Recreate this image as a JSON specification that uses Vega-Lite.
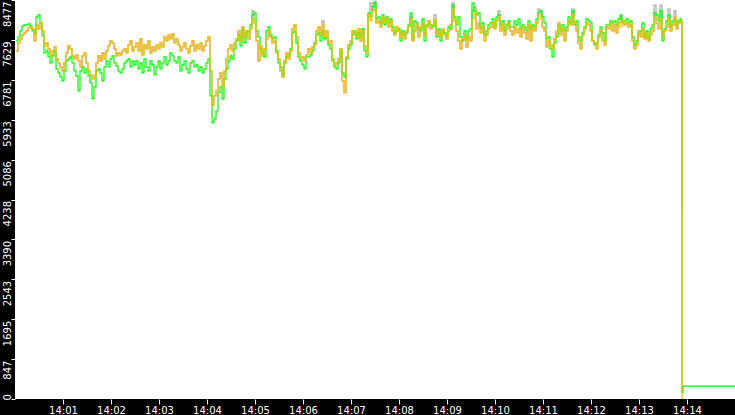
{
  "$schema": "https://vega.github.io/schema/vega-lite/v6.json",
  "width": 720,
  "height": 399,
  "autosize": {"type": "none"},
  "padding": {"left": 15, "top": 0, "right": 0, "bottom": 16},
  "background": "black",
  "config": {
    "view": {"fill": "white", "stroke": null},
    "axis": {
      "domain": false,
      "grid": false,
      "title": null,
      "tickColor": "white",
      "tickWidth": 1,
      "labelColor": "white",
      "labelFont": "DejaVu Sans",
      "labelFontSize": 10,
      "labelOverlap": false,
      "labelBound": false,
      "labelFlush": false
    }
  },
  "data": {
    "values": [
      {"t":1.25,"k":7396,"g":7608,"a":7396},
      {"t":3.75,"k":7566,"g":7693,"a":7566},
      {"t":6.25,"k":7650,"g":7820,"a":7650},
      {"t":8.75,"k":7735,"g":7926,"a":7735},
      {"t":11.25,"k":7778,"g":7947,"a":7778},
      {"t":13.75,"k":7820,"g":7947,"a":7820},
      {"t":16.25,"k":7884,"g":7968,"a":7884},
      {"t":18.75,"k":7905,"g":7926,"a":7905},
      {"t":21.25,"k":7862,"g":7820,"a":7862},
      {"t":23.75,"k":7608,"g":7756,"a":7608},
      {"t":26.25,"k":7947,"g":8117,"a":7947},
      {"t":28.75,"k":7862,"g":8159,"a":7862},
      {"t":31.25,"k":7990,"g":7990,"a":7990},
      {"t":33.75,"k":7820,"g":7714,"a":7820},
      {"t":36.25,"k":7502,"g":7354,"a":7502},
      {"t":38.75,"k":7566,"g":7396,"a":7566},
      {"t":41.25,"k":7438,"g":7269,"a":7438},
      {"t":43.75,"k":7290,"g":7142,"a":7290},
      {"t":46.25,"k":7396,"g":7290,"a":7396},
      {"t":48.75,"k":7481,"g":7396,"a":7481},
      {"t":51.25,"k":7226,"g":7014,"a":7226},
      {"t":53.75,"k":7142,"g":6930,"a":7142},
      {"t":56.25,"k":7057,"g":6845,"a":7057},
      {"t":58.75,"k":6972,"g":6760,"a":6972},
      {"t":61.25,"k":7142,"g":6972,"a":7142},
      {"t":63.75,"k":7354,"g":7184,"a":7354},
      {"t":66.25,"k":7502,"g":7226,"a":7502},
      {"t":68.75,"k":7438,"g":7269,"a":7438},
      {"t":71.25,"k":7290,"g":7142,"a":7290},
      {"t":73.75,"k":7226,"g":6972,"a":7226},
      {"t":76.25,"k":7311,"g":6866,"a":7311},
      {"t":78.75,"k":7184,"g":6548,"a":7184},
      {"t":81.25,"k":7057,"g":6972,"a":7057},
      {"t":83.75,"k":7290,"g":7057,"a":7290},
      {"t":86.25,"k":7354,"g":6930,"a":7354},
      {"t":88.75,"k":7142,"g":7014,"a":7142},
      {"t":91.25,"k":6972,"g":6866,"a":6972},
      {"t":93.75,"k":6887,"g":6718,"a":6887},
      {"t":96.25,"k":6802,"g":6378,"a":6802},
      {"t":98.75,"k":6866,"g":6633,"a":6866},
      {"t":101.25,"k":7142,"g":6972,"a":7142},
      {"t":103.75,"k":7290,"g":7014,"a":7290},
      {"t":106.25,"k":7184,"g":6930,"a":7184},
      {"t":108.75,"k":7354,"g":6760,"a":7354},
      {"t":111.25,"k":7226,"g":7057,"a":7226},
      {"t":113.75,"k":7396,"g":7184,"a":7396},
      {"t":116.25,"k":7502,"g":7057,"a":7502},
      {"t":118.75,"k":7608,"g":7226,"a":7608},
      {"t":121.25,"k":7566,"g":7290,"a":7566},
      {"t":123.75,"k":7438,"g":7142,"a":7438},
      {"t":126.25,"k":7290,"g":7078,"a":7290},
      {"t":128.75,"k":7354,"g":6972,"a":7354},
      {"t":131.25,"k":7311,"g":6930,"a":7311},
      {"t":133.75,"k":7396,"g":7014,"a":7396},
      {"t":136.25,"k":7438,"g":7142,"a":7438},
      {"t":138.75,"k":7354,"g":7184,"a":7354},
      {"t":141.25,"k":7523,"g":7226,"a":7523},
      {"t":143.75,"k":7608,"g":7057,"a":7608},
      {"t":146.25,"k":7396,"g":7184,"a":7396},
      {"t":148.75,"k":7481,"g":7099,"a":7481},
      {"t":151.25,"k":7566,"g":7184,"a":7566},
      {"t":153.75,"k":7396,"g":7014,"a":7396},
      {"t":156.25,"k":7650,"g":7142,"a":7650},
      {"t":158.75,"k":7311,"g":6930,"a":7311},
      {"t":161.25,"k":7523,"g":7226,"a":7523},
      {"t":163.75,"k":7438,"g":7057,"a":7438},
      {"t":166.25,"k":7608,"g":6972,"a":7608},
      {"t":168.75,"k":7354,"g":7184,"a":7354},
      {"t":171.25,"k":7481,"g":7099,"a":7481},
      {"t":173.75,"k":7396,"g":6887,"a":7396},
      {"t":176.25,"k":7523,"g":7057,"a":7523},
      {"t":178.75,"k":7438,"g":7184,"a":7438},
      {"t":181.25,"k":7566,"g":7014,"a":7566},
      {"t":183.75,"k":7481,"g":7142,"a":7481},
      {"t":186.25,"k":7693,"g":7269,"a":7693},
      {"t":188.75,"k":7608,"g":7099,"a":7608},
      {"t":191.25,"k":7735,"g":7184,"a":7735},
      {"t":193.75,"k":7650,"g":7354,"a":7650},
      {"t":196.25,"k":7756,"g":7290,"a":7756},
      {"t":198.75,"k":7566,"g":7184,"a":7566},
      {"t":201.25,"k":7650,"g":7142,"a":7650},
      {"t":203.75,"k":7523,"g":7269,"a":7523},
      {"t":206.25,"k":7396,"g":6972,"a":7396},
      {"t":208.75,"k":7481,"g":7099,"a":7481},
      {"t":211.25,"k":7566,"g":7184,"a":7566},
      {"t":213.75,"k":7438,"g":7014,"a":7438},
      {"t":216.25,"k":7354,"g":6930,"a":7354},
      {"t":218.75,"k":7502,"g":7142,"a":7502},
      {"t":221.25,"k":7608,"g":7184,"a":7608},
      {"t":223.75,"k":7396,"g":7057,"a":7396},
      {"t":226.25,"k":7523,"g":7099,"a":7523},
      {"t":228.75,"k":7438,"g":6972,"a":7438},
      {"t":231.25,"k":7566,"g":7057,"a":7566},
      {"t":233.75,"k":7396,"g":6930,"a":7396},
      {"t":236.25,"k":7502,"g":7014,"a":7502},
      {"t":238.75,"k":7608,"g":7142,"a":7608},
      {"t":241.25,"k":7693,"g":7226,"a":7693},
      {"t":243.75,"k":6972,"g":6442,"a":6972},
      {"t":246.25,"k":6230,"g":5870,"a":6230},
      {"t":248.75,"k":6442,"g":5954,"a":6442},
      {"t":251.25,"k":6548,"g":6124,"a":6548},
      {"t":253.75,"k":6802,"g":6506,"a":6802},
      {"t":256.25,"k":6930,"g":6633,"a":6930},
      {"t":258.75,"k":6633,"g":6378,"a":6633},
      {"t":261.25,"k":6972,"g":6802,"a":6972},
      {"t":263.75,"k":7226,"g":7014,"a":7226},
      {"t":266.25,"k":7438,"g":7184,"a":7438},
      {"t":268.75,"k":7523,"g":7290,"a":7523},
      {"t":271.25,"k":7396,"g":7226,"a":7396},
      {"t":273.75,"k":7566,"g":7438,"a":7566},
      {"t":276.25,"k":7650,"g":7608,"a":7650},
      {"t":278.75,"k":7820,"g":7735,"a":7820},
      {"t":281.25,"k":7608,"g":7502,"a":7608},
      {"t":283.75,"k":7905,"g":7862,"a":7905},
      {"t":286.25,"k":7693,"g":7566,"a":7693},
      {"t":288.75,"k":7820,"g":7778,"a":7820},
      {"t":291.25,"k":7650,"g":7820,"a":7650},
      {"t":293.75,"k":7862,"g":7947,"a":7862},
      {"t":296.25,"k":8244,"g":8159,"a":8074},
      {"t":298.75,"k":7990,"g":8202,"a":7990},
      {"t":301.25,"k":7608,"g":7820,"a":7608},
      {"t":303.75,"k":7184,"g":7693,"a":7184},
      {"t":306.25,"k":7502,"g":7438,"a":7502},
      {"t":308.75,"k":7290,"g":7354,"a":7290},
      {"t":311.25,"k":7438,"g":7269,"a":7438},
      {"t":313.75,"k":7650,"g":7820,"a":7650},
      {"t":316.25,"k":7820,"g":7905,"a":7820},
      {"t":318.75,"k":7693,"g":7735,"a":7693},
      {"t":321.25,"k":7566,"g":7650,"a":7566},
      {"t":323.75,"k":7608,"g":7693,"a":7608},
      {"t":326.25,"k":7354,"g":7396,"a":7354},
      {"t":328.75,"k":7226,"g":7142,"a":7226},
      {"t":331.25,"k":6972,"g":7057,"a":6972},
      {"t":333.75,"k":6845,"g":6845,"a":6845},
      {"t":336.25,"k":7184,"g":7142,"a":7184},
      {"t":338.75,"k":7354,"g":7269,"a":7354},
      {"t":341.25,"k":7226,"g":7311,"a":7226},
      {"t":343.75,"k":7396,"g":7438,"a":7396},
      {"t":346.25,"k":7862,"g":7778,"a":7862},
      {"t":348.75,"k":7947,"g":7820,"a":7947},
      {"t":351.25,"k":7693,"g":7566,"a":7693},
      {"t":353.75,"k":7354,"g":7269,"a":7354},
      {"t":356.25,"k":7226,"g":7184,"a":7226},
      {"t":358.75,"k":7269,"g":7099,"a":7269},
      {"t":361.25,"k":7184,"g":7014,"a":7184},
      {"t":363.75,"k":7311,"g":7269,"a":7311},
      {"t":366.25,"k":7438,"g":7269,"a":7438},
      {"t":368.75,"k":7354,"g":7311,"a":7354},
      {"t":371.25,"k":7481,"g":7396,"a":7481},
      {"t":373.75,"k":7523,"g":7566,"a":7523},
      {"t":376.25,"k":7820,"g":7735,"a":7820},
      {"t":378.75,"k":7905,"g":7778,"a":7905},
      {"t":381.25,"k":7735,"g":7608,"a":7735},
      {"t":383.75,"k":8032,"g":7820,"a":7947},
      {"t":386.25,"k":7693,"g":7650,"a":7693},
      {"t":388.75,"k":7820,"g":7693,"a":7820},
      {"t":391.25,"k":7566,"g":7523,"a":7566},
      {"t":393.75,"k":7608,"g":7438,"a":7608},
      {"t":396.25,"k":7184,"g":7226,"a":7184},
      {"t":398.75,"k":7099,"g":7057,"a":7099},
      {"t":401.25,"k":7142,"g":7014,"a":7142},
      {"t":403.75,"k":7226,"g":7142,"a":7226},
      {"t":406.25,"k":7438,"g":7396,"a":7438},
      {"t":408.75,"k":6760,"g":6930,"a":6760},
      {"t":411.25,"k":6506,"g":6845,"a":6506},
      {"t":413.75,"k":7269,"g":7226,"a":7269},
      {"t":416.25,"k":7523,"g":7438,"a":7523},
      {"t":418.75,"k":7608,"g":7523,"a":7608},
      {"t":421.25,"k":7820,"g":7735,"a":7820},
      {"t":423.75,"k":7778,"g":7820,"a":7778},
      {"t":426.25,"k":7693,"g":7650,"a":7693},
      {"t":428.75,"k":7862,"g":7778,"a":7862},
      {"t":431.25,"k":7608,"g":7693,"a":7608},
      {"t":433.75,"k":7820,"g":7862,"a":7820},
      {"t":436.25,"k":7502,"g":7396,"a":7502},
      {"t":438.75,"k":7354,"g":7269,"a":7354},
      {"t":441.25,"k":8159,"g":8202,"a":8159},
      {"t":443.75,"k":8414,"g":8117,"a":8032},
      {"t":446.25,"k":8244,"g":8329,"a":8244},
      {"t":448.75,"k":8456,"g":8414,"a":8286},
      {"t":451.25,"k":7990,"g":8074,"a":7990},
      {"t":453.75,"k":8032,"g":8117,"a":8032},
      {"t":456.25,"k":7905,"g":7990,"a":7905},
      {"t":458.75,"k":8117,"g":8159,"a":8117},
      {"t":461.25,"k":7990,"g":7947,"a":7990},
      {"t":463.75,"k":8074,"g":8117,"a":8074},
      {"t":466.25,"k":7905,"g":7990,"a":7905},
      {"t":468.75,"k":8032,"g":8074,"a":8032},
      {"t":471.25,"k":7820,"g":7905,"a":7820},
      {"t":473.75,"k":7735,"g":7778,"a":7735},
      {"t":476.25,"k":7905,"g":7820,"a":7905},
      {"t":478.75,"k":7820,"g":7862,"a":7820},
      {"t":481.25,"k":7693,"g":7608,"a":7693},
      {"t":483.75,"k":7778,"g":7820,"a":7778},
      {"t":486.25,"k":7650,"g":7735,"a":7650},
      {"t":488.75,"k":7820,"g":7778,"a":7820},
      {"t":491.25,"k":7905,"g":7947,"a":7905},
      {"t":493.75,"k":8117,"g":8202,"a":8074},
      {"t":496.25,"k":7608,"g":7650,"a":7608},
      {"t":498.75,"k":7820,"g":8032,"a":7820},
      {"t":501.25,"k":7947,"g":7990,"a":7947},
      {"t":503.75,"k":7693,"g":7862,"a":7693},
      {"t":506.25,"k":7905,"g":7820,"a":7905},
      {"t":508.75,"k":7990,"g":8074,"a":7990},
      {"t":511.25,"k":7735,"g":7608,"a":7735},
      {"t":513.75,"k":7905,"g":7947,"a":7905},
      {"t":516.25,"k":8032,"g":7990,"a":8032},
      {"t":518.75,"k":7862,"g":7947,"a":7862},
      {"t":521.25,"k":7947,"g":7905,"a":7947},
      {"t":523.75,"k":8159,"g":8032,"a":8074},
      {"t":526.25,"k":7735,"g":7693,"a":7735},
      {"t":528.75,"k":7820,"g":7862,"a":7820},
      {"t":531.25,"k":7693,"g":7608,"a":7693},
      {"t":533.75,"k":7862,"g":7820,"a":7862},
      {"t":536.25,"k":7735,"g":7778,"a":7735},
      {"t":538.75,"k":7650,"g":7693,"a":7650},
      {"t":541.25,"k":7820,"g":7905,"a":7820},
      {"t":543.75,"k":7947,"g":7862,"a":7947},
      {"t":546.25,"k":8414,"g":8371,"a":8286},
      {"t":548.75,"k":8032,"g":8117,"a":8032},
      {"t":551.25,"k":7820,"g":7947,"a":7820},
      {"t":553.75,"k":7608,"g":8117,"a":7608},
      {"t":556.25,"k":7438,"g":7693,"a":7438},
      {"t":558.75,"k":7650,"g":7608,"a":7650},
      {"t":561.25,"k":7735,"g":7820,"a":7735},
      {"t":563.75,"k":7481,"g":7650,"a":7481},
      {"t":566.25,"k":7693,"g":7820,"a":7693},
      {"t":568.75,"k":7608,"g":7862,"a":7608},
      {"t":571.25,"k":8244,"g":8414,"a":8074},
      {"t":573.75,"k":8329,"g":8244,"a":8202},
      {"t":576.25,"k":7862,"g":8159,"a":7862},
      {"t":578.75,"k":7990,"g":8202,"a":7990},
      {"t":581.25,"k":7778,"g":7905,"a":7778},
      {"t":583.75,"k":7905,"g":7990,"a":7905},
      {"t":586.25,"k":7608,"g":7735,"a":7608},
      {"t":588.75,"k":7735,"g":7820,"a":7735},
      {"t":591.25,"k":7862,"g":7947,"a":7862},
      {"t":593.75,"k":7905,"g":7990,"a":7905},
      {"t":596.25,"k":7990,"g":8074,"a":7990},
      {"t":598.75,"k":7862,"g":7905,"a":7862},
      {"t":601.25,"k":8032,"g":8117,"a":8032},
      {"t":603.75,"k":8244,"g":8159,"a":8117},
      {"t":606.25,"k":7820,"g":7947,"a":7820},
      {"t":608.75,"k":7947,"g":8032,"a":7947},
      {"t":611.25,"k":7735,"g":7820,"a":7735},
      {"t":613.75,"k":7862,"g":7947,"a":7862},
      {"t":616.25,"k":7990,"g":8032,"a":7990},
      {"t":618.75,"k":7820,"g":7905,"a":7820},
      {"t":621.25,"k":7735,"g":7905,"a":7735},
      {"t":623.75,"k":7905,"g":8032,"a":7905},
      {"t":626.25,"k":7778,"g":7947,"a":7778},
      {"t":628.75,"k":7862,"g":8074,"a":7862},
      {"t":631.25,"k":7693,"g":7862,"a":7693},
      {"t":633.75,"k":7905,"g":7947,"a":7905},
      {"t":636.25,"k":7778,"g":7905,"a":7778},
      {"t":638.75,"k":7650,"g":7820,"a":7650},
      {"t":641.25,"k":7947,"g":8032,"a":7947},
      {"t":643.75,"k":7608,"g":7862,"a":7608},
      {"t":646.25,"k":7905,"g":7947,"a":7905},
      {"t":648.75,"k":7820,"g":7905,"a":7820},
      {"t":651.25,"k":7990,"g":8074,"a":7990},
      {"t":653.75,"k":8286,"g":8202,"a":8159},
      {"t":656.25,"k":8244,"g":8244,"a":8074},
      {"t":658.75,"k":7905,"g":8117,"a":7905},
      {"t":661.25,"k":7820,"g":7990,"a":7820},
      {"t":663.75,"k":7481,"g":7650,"a":7481},
      {"t":666.25,"k":7608,"g":7693,"a":7608},
      {"t":668.75,"k":7523,"g":7438,"a":7523},
      {"t":671.25,"k":7438,"g":7269,"a":7438},
      {"t":673.75,"k":7650,"g":7566,"a":7650},
      {"t":676.25,"k":7820,"g":7693,"a":7820},
      {"t":678.75,"k":7990,"g":7947,"a":7990},
      {"t":681.25,"k":7735,"g":7820,"a":7735},
      {"t":683.75,"k":7862,"g":7947,"a":7862},
      {"t":686.25,"k":7608,"g":7820,"a":7608},
      {"t":688.75,"k":7820,"g":7905,"a":7820},
      {"t":691.25,"k":8032,"g":8117,"a":8032},
      {"t":693.75,"k":7947,"g":7990,"a":7947},
      {"t":696.25,"k":8286,"g":8244,"a":8159},
      {"t":698.75,"k":7990,"g":7947,"a":7990},
      {"t":701.25,"k":7820,"g":8032,"a":7820},
      {"t":703.75,"k":7566,"g":7693,"a":7566},
      {"t":706.25,"k":7438,"g":7608,"a":7438},
      {"t":708.75,"k":7735,"g":7778,"a":7735},
      {"t":711.25,"k":7862,"g":7905,"a":7862},
      {"t":713.75,"k":7990,"g":8074,"a":7990},
      {"t":716.25,"k":7947,"g":8032,"a":7947},
      {"t":718.75,"k":7820,"g":7990,"a":7820},
      {"t":721.25,"k":7608,"g":7608,"a":7608},
      {"t":723.75,"k":7566,"g":7523,"a":7566},
      {"t":726.25,"k":7438,"g":7566,"a":7438},
      {"t":728.75,"k":7693,"g":7735,"a":7693},
      {"t":731.25,"k":7820,"g":7905,"a":7820},
      {"t":733.75,"k":7608,"g":7778,"a":7608},
      {"t":736.25,"k":7523,"g":7608,"a":7523},
      {"t":738.75,"k":7905,"g":7947,"a":7905},
      {"t":741.25,"k":7862,"g":7947,"a":7862},
      {"t":743.75,"k":7990,"g":8032,"a":7990},
      {"t":746.25,"k":7820,"g":7990,"a":7820},
      {"t":748.75,"k":7947,"g":8032,"a":7947},
      {"t":751.25,"k":7778,"g":7947,"a":7778},
      {"t":753.75,"k":7990,"g":8074,"a":7990},
      {"t":756.25,"k":8117,"g":8159,"a":7905},
      {"t":758.75,"k":8032,"g":7990,"a":8032},
      {"t":761.25,"k":7947,"g":8032,"a":7947},
      {"t":763.75,"k":7990,"g":8074,"a":7990},
      {"t":766.25,"k":7905,"g":7990,"a":7905},
      {"t":768.75,"k":7947,"g":8032,"a":7947},
      {"t":771.25,"k":7608,"g":7693,"a":7608},
      {"t":773.75,"k":7438,"g":7523,"a":7438},
      {"t":776.25,"k":7523,"g":7608,"a":7523},
      {"t":778.75,"k":7820,"g":7778,"a":7820},
      {"t":781.25,"k":7693,"g":7820,"a":7693},
      {"t":783.75,"k":7862,"g":7990,"a":7862},
      {"t":786.25,"k":7650,"g":7693,"a":7650},
      {"t":788.75,"k":7778,"g":7820,"a":7778},
      {"t":791.25,"k":7608,"g":7650,"a":7608},
      {"t":793.75,"k":7735,"g":7862,"a":7735},
      {"t":796.25,"k":7820,"g":7947,"a":7820},
      {"t":798.75,"k":8371,"g":8202,"a":8117},
      {"t":801.25,"k":7990,"g":8159,"a":7990},
      {"t":803.75,"k":7862,"g":8032,"a":7862},
      {"t":806.25,"k":8371,"g":8244,"a":8074},
      {"t":808.75,"k":7693,"g":7608,"a":7693},
      {"t":811.25,"k":7820,"g":7862,"a":7820},
      {"t":813.75,"k":7905,"g":8032,"a":7905},
      {"t":816.25,"k":8286,"g":8159,"a":8074},
      {"t":818.75,"k":7820,"g":7905,"a":7820},
      {"t":821.25,"k":7947,"g":8032,"a":7947},
      {"t":823.75,"k":8244,"g":8074,"a":8117},
      {"t":826.25,"k":7862,"g":7947,"a":7862},
      {"t":828.75,"k":7990,"g":8032,"a":7990},
      {"t":831.25,"k":8032,"g":8074,"a":8032},
      {"t":832.5,"k":7990,"g":8032,"a":7990},
      {"t":833.75,"k":3960,"g":130,"a":0},
      {"t":835,"g":275},
      {"t":900,"g":275}
    ]
  },
  "transform": [
    {"fold": ["k", "g", "a"], "as": ["series", "value"]}
  ],
  "mark": {"type": "line", "strokeWidth": 1.2, "interpolate": "step-after"},
  "encoding": {
    "x": {
      "field": "t",
      "type": "quantitative",
      "scale": {"domain": [0, 900], "nice": false, "zero": false},
      "axis": {
        "values": [60, 120, 180, 240, 300, 360, 420, 480, 540, 600, 660, 720, 780, 840],
        "labelExpr": "'14:' + (datum.value < 600 ? '0' : '') + (datum.value / 60)",
        "tickSize": 5,
        "labelPadding": 1,
        "labelAngle": 0
      }
    },
    "y": {
      "field": "value",
      "type": "quantitative",
      "scale": {"domain": [0, 8477], "nice": false, "zero": true},
      "axis": {
        "values": [0, 847.7, 1695.4, 2543.1, 3390.8, 4238.5, 5086.2, 5933.9, 6781.6, 7629.3, 8477],
        "labelExpr": "floor(datum.value)",
        "labelAngle": 270,
        "labelAlign": {"condition": {"test": "datum.value == 0", "value": "left"}, "value": "right"},
        "labelBaseline": "alphabetic",
        "labelOffset": 1,
        "labelOverlap": false,
        "labelBound": false,
        "tickSize": 4,
        "labelPadding": 1
      }
    },
    "color": {
      "field": "series",
      "type": "nominal",
      "scale": {"domain": ["k", "g", "a"], "range": ["#a8a8a8", "#00ff00", "#ffc000"]},
      "legend": null
    }
  }
}
